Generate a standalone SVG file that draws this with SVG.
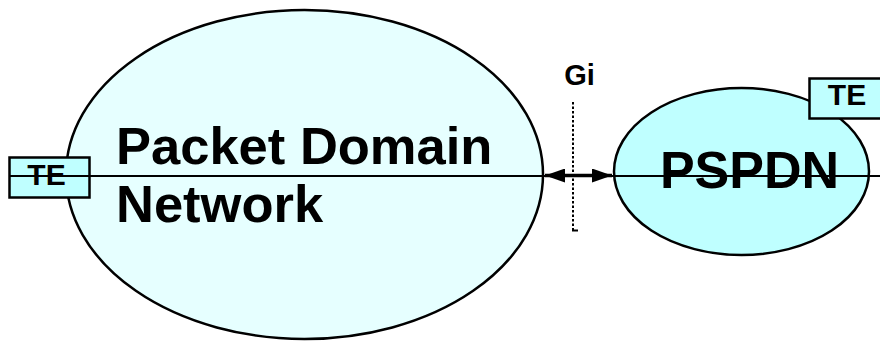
<svg xmlns="http://www.w3.org/2000/svg" width="880" height="342" viewBox="0 0 880 342">
<style>
.lbl{font-family:"Liberation Sans",Arial,sans-serif;font-weight:bold;fill:#000}
.ell{stroke:#000;stroke-width:2.5}
.box{fill:#bfffff;stroke:#000;stroke-width:2.5}
</style>
<defs>
<marker id="ah" markerWidth="20" markerHeight="14" refX="20" refY="7" orient="auto-start-reverse" markerUnits="userSpaceOnUse">
<path d="M0,0 L20,7 L0,14 Z" fill="#000"/>
</marker>
</defs>
<rect width="880" height="342" fill="#fff"/>
<g id="pdn">
<ellipse class="ell" cx="304.5" cy="174.5" rx="238.5" ry="164.5" fill="#e6ffff"/>
<text class="lbl" x="116" y="164" font-size="52.5">Packet Domain</text>
<text class="lbl" x="116" y="222" font-size="52.5">Network</text>
</g>
<g id="pspdn">
<ellipse class="ell" cx="741.5" cy="171.5" rx="127.5" ry="83.5" fill="#bfffff"/>
<text class="lbl" x="749.5" y="188" font-size="52" text-anchor="middle">PSPDN</text>
</g>
<g id="te-left">
<rect class="box" x="9.5" y="157.5" width="80" height="40"/>
<text class="lbl" x="46.5" y="185" font-size="30" text-anchor="middle">TE</text>
</g>
<g id="te-right">
<rect class="box" x="809.5" y="78.5" width="72" height="40"/>
<text class="lbl" x="847" y="105" font-size="30" text-anchor="middle">TE</text>
</g>
<g id="gi">
<line x1="573" y1="102" x2="573" y2="230" stroke="#000" stroke-width="2" stroke-dasharray="2.5,2"/>
<line x1="572" y1="230.5" x2="578" y2="230.5" stroke="#000" stroke-width="2"/>
<text class="lbl" x="579.5" y="85" font-size="29" text-anchor="middle">Gi</text>
</g>
<g id="connectors">
<line x1="9" y1="176" x2="880" y2="176" stroke="#000" stroke-width="2"/>
<line x1="545" y1="175.5" x2="612" y2="175.5" stroke="#000" stroke-width="3.5" marker-start="url(#ah)" marker-end="url(#ah)"/>
</g>
</svg>
